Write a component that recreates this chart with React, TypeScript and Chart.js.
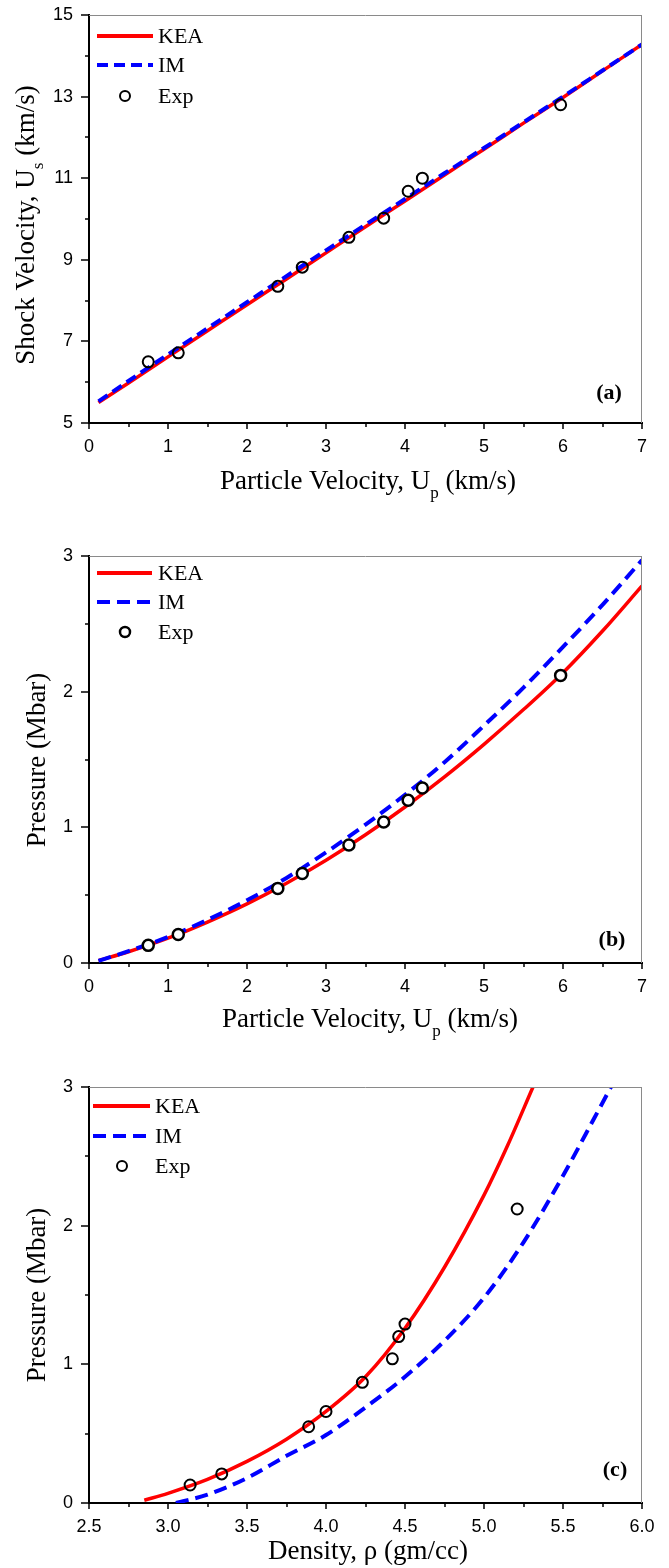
import React, { useEffect, useRef } from 'react';
import { Chart, registerables } from 'chart.js';

Chart.register(...registerables);

// ---------- Data ----------
// Panel (a): shock velocity vs particle velocity
const upLine = [0.12, 0.5, 1, 1.5, 2, 2.5, 3, 3.5, 4, 4.5, 5, 5.5, 6, 6.5, 7];
const usKEA = [5.5, 5.98, 6.62, 7.26, 7.9, 8.53, 9.17, 9.81, 10.44, 11.08, 11.71, 12.35, 12.98, 13.63, 14.28];
const usIM = [5.53, 6.03, 6.68, 7.32, 7.96, 8.6, 9.23, 9.86, 10.49, 11.12, 11.74, 12.37, 13.0, 13.64, 14.28];

// Panel (b): pressure vs particle velocity
const pKEA = [0.018, 0.083, 0.183, 0.302, 0.436, 0.588, 0.757, 0.945, 1.15, 1.372, 1.612, 1.868, 2.14, 2.447, 2.78];
const pIM = [0.016, 0.087, 0.192, 0.318, 0.462, 0.627, 0.815, 1.02, 1.24, 1.48, 1.75, 2.03, 2.33, 2.64, 2.97];

// Experimental points
const expUp = [0.75, 1.13, 2.39, 2.7, 3.29, 3.73, 4.04, 4.22, 5.97];
const expUs = [6.5, 6.72, 8.35, 8.82, 9.55, 10.02, 10.68, 11.0, 12.8];
const expP = [0.13, 0.21, 0.55, 0.66, 0.87, 1.04, 1.2, 1.29, 2.12];
const expRho = [3.14, 3.34, 3.89, 4.0, 4.23, 4.42, 4.46, 4.5, 5.21];

// Panel (c): pressure vs density
const rhoKEA = [2.85, 3.0, 3.25, 3.5, 3.75, 4.0, 4.25, 4.5, 4.75, 5.0, 5.15, 5.31];
const pKEAc = [0.02, 0.07, 0.17, 0.3, 0.46, 0.66, 0.91, 1.26, 1.7, 2.22, 2.58, 3.0];
const rhoIM = [3.05, 3.25, 3.5, 3.75, 4.0, 4.25, 4.5, 4.75, 5.0, 5.25, 5.5, 5.7, 5.86];
const pIMc = [0.0, 0.06, 0.18, 0.34, 0.49, 0.69, 0.91, 1.17, 1.48, 1.88, 2.36, 2.78, 3.12];

// Ticks
const xTicksUp = [0, 1, 2, 3, 4, 5, 6, 7];
const xMinorUp = [0.5, 1.5, 2.5, 3.5, 4.5, 5.5, 6.5];
const yTicksUs = [5, 7, 9, 11, 13, 15];
const yMinorUs = [6, 8, 10, 12, 14];
const yTicksP = [0, 1, 2, 3];
const yMinorP = [0.5, 1.5, 2.5];
const xTicksRho = [2.5, 3.0, 3.5, 4.0, 4.5, 5.0, 5.5, 6.0];
const xLabelsRho = ['2.5', '3.0', '3.5', '4.0', '4.5', '5.0', '5.5', '6.0'];
const xMinorRho = [2.75, 3.25, 3.75, 4.25, 4.75, 5.25, 5.75];

const legendLabels = ['KEA', 'IM', 'Exp'];

// ---------- Styling ----------
const SERIF = '"Liberation Serif", "Times New Roman", serif';
const SANS = '"Liberation Sans", Arial, sans-serif';
const TITLE_SIZE = 27;

type Part = { t: string; sub?: boolean };

function drawRich(ctx: CanvasRenderingContext2D, parts: Part[], cx: number, cy: number, size: number, rotate: boolean) {
  ctx.save();
  ctx.translate(cx, cy);
  if (rotate) ctx.rotate(-Math.PI / 2);
  const subSize = Math.round(size * 0.62);
  let total = 0;
  const widths = parts.map((p) => {
    ctx.font = `${p.sub ? subSize : size}px ${SERIF}`;
    const w = ctx.measureText(p.t).width;
    total += w;
    return w;
  });
  let x = -total / 2;
  ctx.textBaseline = 'middle';
  ctx.textAlign = 'left';
  ctx.fillStyle = '#000';
  parts.forEach((p, i) => {
    ctx.font = `${p.sub ? subSize : size}px ${SERIF}`;
    ctx.fillText(p.t, x, p.sub ? size * 0.42 : 0);
    x += widths[i];
  });
  ctx.restore();
}

type PanelCfg = {
  width: number;
  height: number;
  area: { top: number; bottom: number; left: number; right: number };
  xMin: number; xMax: number; yMin: number; yMax: number;
  xTicks: number[]; xMinor: number[]; xLabels?: string[];
  yTicks: number[]; yMinor: number[];
  kea: { x: number[]; y: number[] };
  im: { x: number[]; y: number[] };
  exp: { x: number[]; y: number[] };
  expFill: string;
  expBorder: number;
  dash: number[];
  xTitle: Part[]; xTitlePos: [number, number];
  yTitle: Part[]; yTitlePos: [number, number];
  legend: { rows: number[]; lineX: [number, number]; circleX: number; textX: number };
  label: string; labelPos: [number, number];
};

function Panel({ cfg }: { cfg: PanelCfg }) {
  const ref = useRef<HTMLCanvasElement | null>(null);
  useEffect(() => {
    const canvas = ref.current;
    if (!canvas) return;
    const a = cfg.area;
    const decor = {
      id: 'decor',
      afterDraw(chart: any) {
        const ctx: CanvasRenderingContext2D = chart.ctx;
        const ca = chart.chartArea;
        const xs = chart.scales.x;
        const ys = chart.scales.y;
        ctx.save();
        // top & right frame
        ctx.strokeStyle = '#8a8a8a';
        ctx.lineWidth = 1;
        ctx.beginPath();
        ctx.moveTo(ca.left, ca.top + 0.5);
        ctx.lineTo(ca.right, ca.top + 0.5);
        ctx.moveTo(ca.right - 0.5, ca.top);
        ctx.lineTo(ca.right - 0.5, ca.bottom);
        ctx.stroke();
        // ticks
        ctx.strokeStyle = '#000';
        ctx.lineWidth = 1.5;
        ctx.beginPath();
        cfg.xTicks.forEach((v) => {
          const px = Math.round(xs.getPixelForValue(v));
          ctx.moveTo(px, ca.bottom);
          ctx.lineTo(px, ca.bottom + 6);
        });
        cfg.xMinor.forEach((v) => {
          const px = Math.round(xs.getPixelForValue(v));
          ctx.moveTo(px, ca.bottom);
          ctx.lineTo(px, ca.bottom + 4);
        });
        cfg.yTicks.forEach((v) => {
          const py = Math.round(ys.getPixelForValue(v));
          ctx.moveTo(ca.left, py);
          ctx.lineTo(ca.left - 8, py);
        });
        cfg.yMinor.forEach((v) => {
          const py = Math.round(ys.getPixelForValue(v));
          ctx.moveTo(ca.left, py);
          ctx.lineTo(ca.left - 4, py);
        });
        ctx.stroke();
        // legend
        const L = cfg.legend;
        ctx.lineWidth = 4;
        ctx.strokeStyle = '#ff0000';
        ctx.setLineDash([]);
        ctx.beginPath();
        ctx.moveTo(L.lineX[0], L.rows[0]);
        ctx.lineTo(L.lineX[1], L.rows[0]);
        ctx.stroke();
        ctx.strokeStyle = '#0000ff';
        ctx.setLineDash(cfg.dash);
        ctx.beginPath();
        ctx.moveTo(L.lineX[0], L.rows[1]);
        ctx.lineTo(L.lineX[1], L.rows[1]);
        ctx.stroke();
        ctx.setLineDash([]);
        ctx.strokeStyle = '#000';
        ctx.lineWidth = cfg.expBorder;
        ctx.fillStyle = cfg.expFill;
        ctx.beginPath();
        ctx.arc(L.circleX, L.rows[2], 5, 0, Math.PI * 2);
        ctx.fill();
        ctx.stroke();
        ctx.fillStyle = '#000';
        ctx.font = `22px ${SERIF}`;
        ctx.textAlign = 'left';
        ctx.textBaseline = 'middle';
        legendLabels.forEach((t, i) => ctx.fillText(t, L.textX, L.rows[i] + 1));
        // panel label
        ctx.font = `bold 22px ${SERIF}`;
        ctx.textAlign = 'center';
        ctx.fillText(cfg.label, cfg.labelPos[0], cfg.labelPos[1]);
        ctx.restore();
        // titles
        drawRich(ctx, cfg.xTitle, cfg.xTitlePos[0], cfg.xTitlePos[1], TITLE_SIZE, false);
        drawRich(ctx, cfg.yTitle, cfg.yTitlePos[0], cfg.yTitlePos[1], TITLE_SIZE, true);
      },
    };
    const pts = (s: { x: number[]; y: number[] }) => s.x.map((x, i) => ({ x, y: s.y[i] }));
    const chart = new Chart(canvas, {
      type: 'scatter',
      data: {
        datasets: [
          {
            label: 'Exp',
            data: pts(cfg.exp),
            pointRadius: 5.5,
            pointStyle: 'circle',
            pointBorderWidth: cfg.expBorder,
            borderColor: '#000',
            backgroundColor: cfg.expFill,
            showLine: false,
            order: 0,
          },
          {
            label: 'IM',
            data: pts(cfg.im),
            showLine: true,
            borderColor: '#0000ff',
            borderWidth: 4,
            borderDash: cfg.dash,
            pointRadius: 0,
            cubicInterpolationMode: 'monotone',
            order: 1,
          },
          {
            label: 'KEA',
            data: pts(cfg.kea),
            showLine: true,
            borderColor: '#ff0000',
            borderWidth: 3.5,
            pointRadius: 0,
            cubicInterpolationMode: 'monotone',
            order: 2,
          },
        ] as any,
      },
      options: {
        animation: false,
        responsive: false,
        devicePixelRatio: 1,
        events: [],
        layout: { padding: { top: a.top, right: cfg.width - a.right, left: 0, bottom: 0 } },
        plugins: { legend: { display: false }, tooltip: { enabled: false } },
        scales: {
          x: {
            type: 'linear',
            min: cfg.xMin,
            max: cfg.xMax,
            afterBuildTicks: (s: any) => { s.ticks = cfg.xTicks.map((v) => ({ value: v })); },
            afterFit: (s: any) => {
              s.height = cfg.height - a.bottom;
              s.paddingLeft = 0; s.paddingRight = 0; s.paddingTop = 0; s.paddingBottom = 0;
            },
            ticks: {
              autoSkip: false,
              maxRotation: 0,
              padding: 13,
              color: '#000',
              font: { family: SANS, size: 18 },
              callback: (v: any, i: number) => (cfg.xLabels ? cfg.xLabels[i] : String(v)),
            },
            grid: { display: true, drawOnChartArea: false, drawTicks: false },
            border: { display: true, color: '#000', width: 2 },
          },
          y: {
            type: 'linear',
            min: cfg.yMin,
            max: cfg.yMax,
            afterBuildTicks: (s: any) => { s.ticks = cfg.yTicks.map((v) => ({ value: v })); },
            afterFit: (s: any) => {
              s.width = a.left;
              s.paddingLeft = 0; s.paddingRight = 0; s.paddingTop = 0; s.paddingBottom = 0;
            },
            ticks: {
              padding: 16,
              color: '#000',
              font: { family: SANS, size: 18 },
              callback: (v: any) => String(v),
            },
            grid: { display: true, drawOnChartArea: false, drawTicks: false },
            border: { display: true, color: '#000', width: 2 },
          },
        },
      } as any,
      plugins: [decor],
    });
    return () => chart.destroy();
  }, [cfg]);
  return <canvas ref={ref} width={cfg.width} height={cfg.height} style={{ display: 'block', width: cfg.width, height: cfg.height }} />;
}

const upTitle: Part[] = [{ t: 'Particle Velocity, U' }, { t: 'p', sub: true }, { t: ' (km/s)' }];

const panelA: PanelCfg = {
  width: 669, height: 520,
  area: { top: 15, bottom: 423, left: 89, right: 642 },
  xMin: 0, xMax: 7, yMin: 5, yMax: 15,
  xTicks: xTicksUp, xMinor: xMinorUp, yTicks: yTicksUs, yMinor: yMinorUs,
  kea: { x: upLine, y: usKEA }, im: { x: upLine, y: usIM }, exp: { x: expUp, y: expUs },
  expFill: 'rgba(255,255,255,0)', expBorder: 2, dash: [11, 6],
  xTitle: upTitle, xTitlePos: [368, 482],
  yTitle: [{ t: 'Shock Velocity, U' }, { t: 's', sub: true }, { t: ' (km/s)' }], yTitlePos: [27, 225],
  legend: { rows: [36, 65, 96], lineX: [97, 153], circleX: 125, textX: 158 },
  label: '(a)', labelPos: [609, 393],
};

const panelB: PanelCfg = {
  width: 669, height: 520,
  area: { top: 36, bottom: 443, left: 89, right: 642 },
  xMin: 0, xMax: 7, yMin: 0, yMax: 3,
  xTicks: xTicksUp, xMinor: xMinorUp, yTicks: yTicksP, yMinor: yMinorP,
  kea: { x: upLine, y: pKEA }, im: { x: upLine, y: pIM }, exp: { x: expUp, y: expP },
  expFill: '#ffffff', expBorder: 2.5, dash: [13, 7],
  xTitle: upTitle, xTitlePos: [370, 500],
  yTitle: [{ t: 'Pressure (Mbar)' }], yTitlePos: [38, 240],
  legend: { rows: [53, 82, 112], lineX: [97, 152], circleX: 125, textX: 158 },
  label: '(b)', labelPos: [612, 420],
};

const panelC: PanelCfg = {
  width: 669, height: 528,
  area: { top: 47, bottom: 463, left: 89, right: 642 },
  xMin: 2.5, xMax: 6.0, yMin: 0, yMax: 3,
  xTicks: xTicksRho, xMinor: xMinorRho, xLabels: xLabelsRho, yTicks: yTicksP, yMinor: yMinorP,
  kea: { x: rhoKEA, y: pKEAc }, im: { x: rhoIM, y: pIMc }, exp: { x: expRho, y: expP },
  expFill: 'rgba(255,255,255,0)', expBorder: 2, dash: [13, 7],
  xTitle: [{ t: 'Density, ρ (gm/cc)' }], xTitlePos: [368, 512],
  yTitle: [{ t: 'Pressure (Mbar)' }], yTitlePos: [38, 255],
  legend: { rows: [66, 96, 126], lineX: [93, 150], circleX: 122, textX: 155 },
  label: '(c)', labelPos: [615, 430],
};

export default function App() {
  return (
    <div style={{ position: 'absolute', left: 0, top: 0, width: 669, height: 1568, background: '#fff' }}>
      <Panel cfg={panelA} />
      <Panel cfg={panelB} />
      <Panel cfg={panelC} />
    </div>
  );
}
